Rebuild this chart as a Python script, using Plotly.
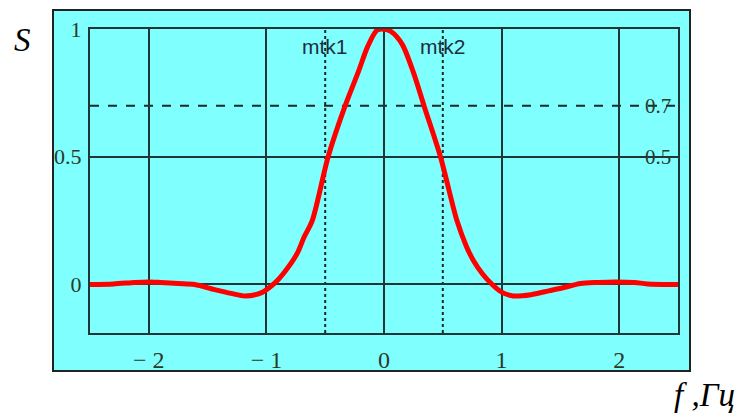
import plotly.graph_objects as go

# Spectrum S(f)
f_vals = [-2.5, -2.3, -2.12, -2.0, -1.9, -1.75, -1.61, -1.44, -1.3, -1.18, -1.04, -0.93,
          -0.855, -0.74, -0.68, -0.61, -0.475, -0.33, -0.22, -0.14, -0.06, 0.0, 0.06, 0.155, 0.25,
          0.34, 0.48, 0.62, 0.70, 0.76, 0.84, 0.92, 1.00, 1.10, 1.25, 1.40, 1.53, 1.67,
          1.82, 1.96, 2.13, 2.24, 2.5]
s_vals = [0.0, 0.002, 0.008, 0.01, 0.008, 0.004, 0.0, -0.02, -0.035, -0.045, -0.032, 0.005,
          0.043, 0.12, 0.185, 0.25, 0.5, 0.70, 0.83, 0.93, 0.995, 1.0, 0.99, 0.94, 0.83,
          0.70, 0.50, 0.25, 0.15, 0.094, 0.04, 0.0, -0.03, -0.045, -0.04, -0.025, -0.012, 0.004,
          0.008, 0.01, 0.008, 0.002, 0.0]

x_ticks = [-2, -1, 0, 1, 2]
x_ticktext = ["\u2212 2", "\u2212 1", "0", "1", "2"]
y_ticks = [0, 0.5, 1]
y_ticktext = ["0", "0.5", "1"]

markers_x = [-0.5, 0.5]
marker_labels = ["mtk1", "mtk2"]
level_y = [0.7, 0.5]
level_labels = ["0.7", "0.5"]

x_range = [-2.5, 2.5]
y_range = [-0.19, 1.0]

W, H = 748, 416
L, R, T, B = 90, 70, 29, 83
pw, ph = W - L - R, H - T - B

def px_x(p):
    return (p - L) / pw

def px_y(p):
    return (H - B - p) / ph

CYAN = "#80ffff"
GRID = "#203636"
SERIF = "Liberation Serif, Times New Roman, serif"
SANS = "Liberation Sans, Arial, sans-serif"

fig = go.Figure()
fig.add_trace(go.Scatter(x=f_vals, y=s_vals, mode="lines",
                         line=dict(color="#ff0000", width=5, shape="spline", smoothing=0.8),
                         hoverinfo="skip"))

shapes = []
# outer cyan frame
shapes.append(dict(type="rect", xref="paper", yref="paper",
                   x0=px_x(53), x1=px_x(690), y0=px_y(371), y1=px_y(10),
                   fillcolor=CYAN, line=dict(color="#222222", width=2), layer="below"))
# marker vertical dotted lines
for mx in markers_x:
    shapes.append(dict(type="line", xref="x", yref="y", x0=mx, x1=mx,
                       y0=y_range[0], y1=y_range[1],
                       line=dict(color="#1a2a2a", width=2, dash="dot"), layer="below"))
# 0.7 horizontal dashed line
shapes.append(dict(type="line", xref="x", yref="y", x0=x_range[0], x1=x_range[1],
                   y0=level_y[0], y1=level_y[0],
                   line=dict(color="#1a2a2a", width=2, dash="dash"), layer="below"))

annotations = []
for mx, lab in zip(markers_x, marker_labels):
    annotations.append(dict(x=mx, y=0.93, xref="x", yref="y", text=lab, showarrow=False,
                            font=dict(family=SANS, size=21, color="#1e2e3a"),
                            xanchor="center", yanchor="middle"))
for ly, lab in zip(level_y, level_labels):
    annotations.append(dict(x=px_x(673), y=ly, xref="paper", yref="y", text=lab,
                            showarrow=False, font=dict(family=SERIF, size=21, color="#2a3a2a"),
                            xanchor="right", yanchor="middle"))
annotations.append(dict(x=px_x(22), y=px_y(40), xref="paper", yref="paper", text="<i>S</i>",
                        showarrow=False, font=dict(family=SERIF, size=33, color="#000000"),
                        xanchor="center", yanchor="middle"))
annotations.append(dict(x=px_x(704), y=px_y(395), xref="paper", yref="paper",
                        text="<i>f ,Гц</i>", showarrow=False,
                        font=dict(family=SERIF, size=33, color="#000000"),
                        xanchor="center", yanchor="middle"))

fig.update_layout(
    width=W, height=H,
    margin=dict(l=L, r=R, t=T, b=B),
    paper_bgcolor="white", plot_bgcolor=CYAN,
    showlegend=False,
    shapes=shapes, annotations=annotations,
    xaxis=dict(range=x_range, tickvals=x_ticks, ticktext=x_ticktext,
               showgrid=True, gridcolor=GRID, gridwidth=1.5, zeroline=False,
               showline=True, linecolor=GRID, linewidth=2, mirror=True,
               ticks="outside", ticklen=4, tickcolor="rgba(0,0,0,0)",
               tickfont=dict(family=SERIF, size=24, color="#2a3a2a")),
    yaxis=dict(range=y_range, tickvals=y_ticks, ticktext=y_ticktext,
               showgrid=True, gridcolor=GRID, gridwidth=1.5, zeroline=False,
               showline=True, linecolor=GRID, linewidth=2, mirror=True,
               ticks="outside", ticklen=2, tickcolor="rgba(0,0,0,0)",
               tickfont=dict(family=SERIF, size=22, color="#2a3a2a")),
)

fig.write_html("out.html")
